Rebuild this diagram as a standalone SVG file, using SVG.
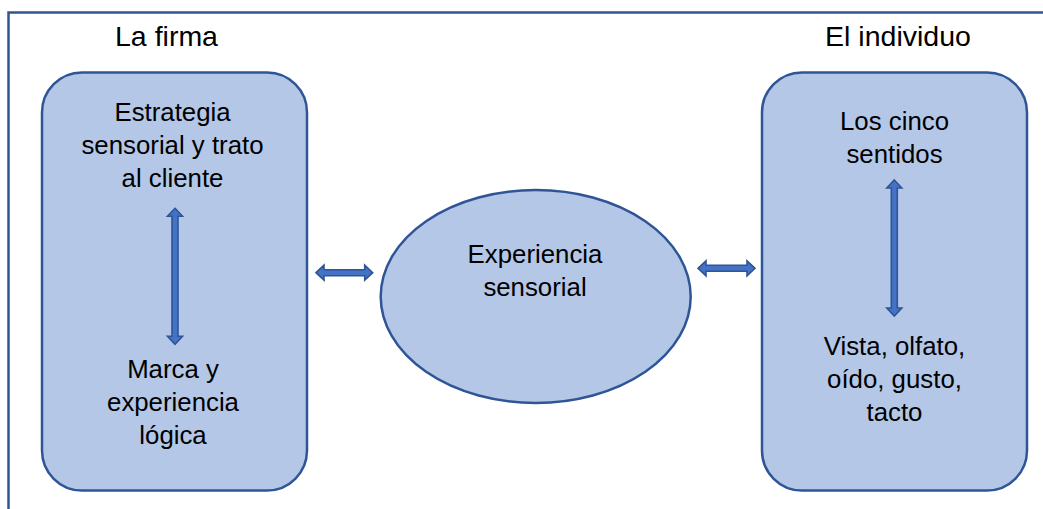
<svg xmlns="http://www.w3.org/2000/svg" width="1043" height="509" viewBox="0 0 1043 509">
<style>
.box{fill:#B4C7E7;stroke:#2F5597;stroke-width:2.5}
.frame{fill:none;stroke:#2F5597;stroke-width:2.5}
.arr{fill:#4472C4;stroke:#2F5597;stroke-width:1.6;stroke-linejoin:miter}
.t{font-family:"Liberation Sans",Arial,sans-serif;font-size:25.8px;fill:#000;text-anchor:middle}
.h{font-family:"Liberation Sans",Arial,sans-serif;font-size:28.5px;fill:#000;text-anchor:middle}
</style>
<rect width="1043" height="509" fill="#fff"/>
<path class="frame" d="M8.5,509 V12.5 H1043"/>
<g id="title-firma"><text class="h" x="166.5" y="46">La firma</text></g>
<g id="title-individuo"><text class="h" x="898" y="46">El individuo</text></g>
<g id="node-firma">
<rect class="box" x="42" y="72.5" width="265" height="418" rx="40" ry="40"/>
<text class="t" x="172.5" y="121">Estrategia</text>
<text class="t" x="172.5" y="154">sensorial y trato</text>
<text class="t" x="172.5" y="187">al cliente</text>
<text class="t" x="173" y="378">Marca y</text>
<text class="t" x="173" y="411">experiencia</text>
<text class="t" x="173" y="444">lógica</text>
</g>
<g id="node-experiencia">
<ellipse class="box" cx="535.7" cy="296.5" rx="155" ry="106.5"/>
<text class="t" x="535" y="263">Experiencia</text>
<text class="t" x="535" y="296">sensorial</text>
</g>
<g id="node-individuo">
<rect class="box" x="762" y="72.5" width="265" height="418" rx="40" ry="40"/>
<text class="t" x="894.5" y="130">Los cinco</text>
<text class="t" x="894.5" y="163">sentidos</text>
<text class="t" x="894.5" y="355">Vista, olfato,</text>
<text class="t" x="894.5" y="388">oído, gusto,</text>
<text class="t" x="894.5" y="421">tacto</text>
</g>
<g id="connectors">
<polygon class="arr" points="316,272.7 324,265.2 324,269.7 364.7,269.7 364.7,265.2 372.7,272.7 364.7,280.2 364.7,275.7 324,275.7 324,280.2"/>
<polygon class="arr" points="698,268.3 706,260.8 706,265.3 747,265.3 747,260.8 755,268.3 747,275.8 747,271.3 706,271.3 706,275.8"/>
<polygon class="arr" points="175,208.3 182.5,216.3 178,216.3 178,336.3 182.5,336.3 175,344.3 167.5,336.3 172,336.3 172,216.3 167.5,216.3"/>
<polygon class="arr" points="894.3,180 901.8,188 897.3,188 897.3,308 901.8,308 894.3,316 886.8,308 891.3,308 891.3,188 886.8,188"/>
</g>
</svg>
